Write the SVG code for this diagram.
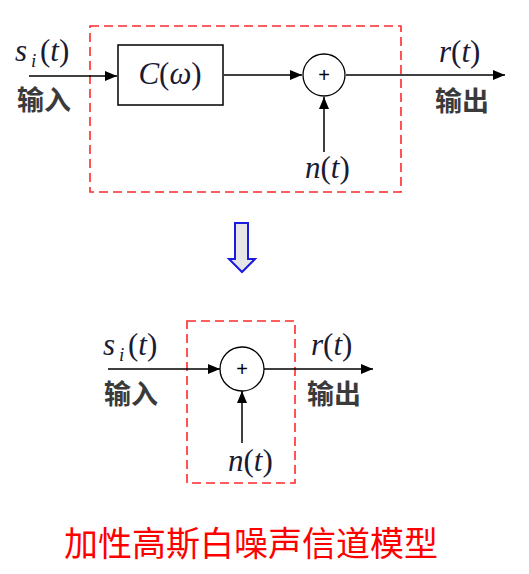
<svg xmlns="http://www.w3.org/2000/svg" width="529" height="574" viewBox="0 0 529 574">
<style>
.dash{fill:none;stroke:#ff2a2a;stroke-width:1.6;stroke-dasharray:9 5}
.ln{fill:none;stroke:#000;stroke-width:1.5}
.sum{fill:#fff;stroke:#000;stroke-width:1.3}
.m{font-family:"Liberation Serif",serif;font-style:italic;font-size:31px;fill:#1a1a33}
.p{font-style:normal}
.sub{font-size:19px}
.cn{font-family:"Noto Sans CJK SC",sans-serif;font-size:27px;font-weight:bold;fill:#3a3a3a}
.plus{font-family:"Liberation Sans",sans-serif;font-size:20px;fill:#000}
.title{font-family:"Noto Sans CJK SC",sans-serif;font-size:34px;fill:#ff0000}
</style>
<defs>
<marker id="ah" viewBox="0 0 12 10" refX="12" refY="5" markerWidth="12" markerHeight="10" markerUnits="userSpaceOnUse" orient="auto">
<path d="M0,0 L12,5 L0,10 Z" fill="#000"/>
</marker>
</defs>
<g id="channel-box-top"><rect class="dash" x="90" y="26" width="311" height="166"/></g>
<g id="channel-box-bottom"><rect class="dash" x="187" y="321" width="108" height="162"/></g>
<g id="connectors">
<line class="ln" x1="29" y1="76" x2="117" y2="76" marker-end="url(#ah)"/>
<line class="ln" x1="224" y1="75" x2="302" y2="75" marker-end="url(#ah)"/>
<line class="ln" x1="346" y1="75" x2="505" y2="75" marker-end="url(#ah)"/>
<line class="ln" x1="324" y1="152" x2="324" y2="97" marker-end="url(#ah)"/>
<line class="ln" x1="108" y1="369" x2="220" y2="369" marker-end="url(#ah)"/>
<line class="ln" x1="264" y1="369" x2="373" y2="369" marker-end="url(#ah)"/>
<line class="ln" x1="242" y1="443" x2="242" y2="391" marker-end="url(#ah)"/>
</g>
<g id="filter-C">
<rect x="118" y="45" width="105" height="60" fill="#fff" stroke="#000" stroke-width="1.5"/>
<text class="m" x="170" y="84" text-anchor="middle">C<tspan class="p">(</tspan>ω<tspan class="p">)</tspan></text>
</g>
<g id="sum-top">
<circle class="sum" cx="324" cy="75" r="21"/>
<text class="plus" x="324" y="82" text-anchor="middle">+</text>
</g>
<g id="sum-bottom">
<circle class="sum" cx="242" cy="369" r="22"/>
<text class="plus" x="242" y="376" text-anchor="middle">+</text>
</g>
<g id="labels-top">
<text class="m" x="15" y="61">s</text><text class="m sub" x="31" y="67">i</text><text class="m" x="40" y="61"><tspan class="p">(</tspan>t<tspan class="p">)</tspan></text>
<text class="cn" x="17" y="110">输入</text>
<text class="m" x="439" y="62">r<tspan class="p">(</tspan>t<tspan class="p">)</tspan></text>
<text class="cn" x="435" y="111">输出</text>
<text class="m" x="305" y="178">n<tspan class="p">(</tspan>t<tspan class="p">)</tspan></text>
</g>
<g id="transform-arrow">
<path d="M235,223 L248,223 L248,259 L255,259 L242,272 L229,259 L235,259 Z" fill="#e6e6e6" stroke="#1a1ae0" stroke-width="2"/>
</g>
<g id="labels-bottom">
<text class="m" x="103" y="355">s</text><text class="m sub" x="119" y="361">i</text><text class="m" x="128" y="355"><tspan class="p">(</tspan>t<tspan class="p">)</tspan></text>
<text class="cn" x="104" y="404">输入</text>
<text class="m" x="311" y="355">r<tspan class="p">(</tspan>t<tspan class="p">)</tspan></text>
<text class="cn" x="307" y="404">输出</text>
<text class="m" x="228" y="471">n<tspan class="p">(</tspan>t<tspan class="p">)</tspan></text>
</g>
<g id="title"><text class="title" x="251" y="556" text-anchor="middle">加性高斯白噪声信道模型</text></g>
</svg>
